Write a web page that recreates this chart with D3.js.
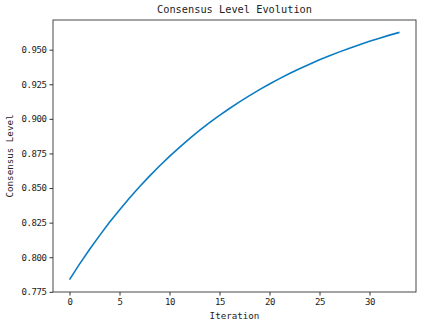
<!DOCTYPE html>
<html>
<head>
<meta charset="utf-8">
<script src="https://cdn.jsdelivr.net/npm/d3@7"></script>
<style>
  body { margin: 0; background: #fff; }
  text { font-family: "DejaVu Sans Mono", monospace; fill: #222; }
</style>
</head>
<body>
<div id="chart"></div>
<script>
// Consensus level per iteration
const iterations = d3.range(0, 34)
const consensus = [
  0.7838, 0.7950, 0.8056, 0.8156, 0.8252, 0.8342, 0.8428, 0.8509, 0.8586, 0.8659,
  0.8729, 0.8794, 0.8857, 0.8916, 0.8972, 0.9025, 0.9075, 0.9123, 0.9168, 0.9211,
  0.9252, 0.9291, 0.9328, 0.9362, 0.9395, 0.9427, 0.9456, 0.9484, 0.9511, 0.9536,
  0.9560, 0.9583, 0.9605, 0.9625
]
const xTicks = [0, 5, 10, 15, 20, 25, 30]
const yTicks = [0.775, 0.800, 0.825, 0.850, 0.875, 0.900, 0.925, 0.950]

const width = 424
const height = 323
const margin = { top: 20, right: 8, bottom: 31, left: 53 }

const svg = d3.select('#chart')
  .append('svg')
  .attr('width', width)
  .attr('height', height)

// matplotlib-like 5% margins
const xPad = (33 - 0) * 0.05
const yMin = d3.min(consensus), yMax = d3.max(consensus)
const yPad = (yMax - yMin) * 0.05

const x = d3.scaleLinear()
  .domain([0 - xPad, 33 + xPad])
  .range([margin.left, width - margin.right])

const y = d3.scaleLinear()
  .domain([yMin - yPad, yMax + yPad])
  .range([height - margin.bottom, margin.top])

// Axes
const xAxis = svg.append('g')
  .attr('transform', `translate(0, ${height - margin.bottom})`)
  .call(d3.axisBottom(x).tickValues(xTicks).tickSize(3.5).tickPadding(3).tickSizeOuter(0))

const yAxis = svg.append('g')
  .attr('transform', `translate(${margin.left}, 0)`)
  .call(d3.axisLeft(y).tickValues(yTicks).tickFormat(d3.format('.3f')).tickSize(3.5).tickPadding(3).tickSizeOuter(0))

svg.selectAll('.domain').remove()
svg.selectAll('.tick line').attr('stroke', '#333')
svg.selectAll('.tick text').style('font-size', '9px').attr('letter-spacing', '-0.4')

// Frame
svg.append('rect')
  .attr('x', margin.left)
  .attr('y', margin.top)
  .attr('width', width - margin.left - margin.right)
  .attr('height', height - margin.top - margin.bottom)
  .attr('fill', 'none')
  .attr('stroke', '#333')
  .attr('stroke-width', 0.9)

// Line
const line = d3.line()
  .x((d, i) => x(iterations[i]))
  .y(d => y(d))

svg.append('path')
  .datum(consensus)
  .attr('d', line)
  .attr('fill', 'none')
  .attr('stroke', '#0a7bc2')
  .attr('stroke-width', 1.6)

// Title and labels
svg.append('text')
  .text('Consensus Level Evolution')
  .attr('x', (margin.left + width - margin.right) / 2)
  .attr('y', 13)
  .attr('text-anchor', 'middle')
  .style('font-size', '10.3px')

svg.append('text')
  .text('Iteration')
  .attr('x', (margin.left + width - margin.right) / 2)
  .attr('y', 319)
  .attr('text-anchor', 'middle')
  .style('font-size', '9.2px')

svg.append('text')
  .text('Consensus Level')
  .attr('transform', `translate(13, ${(margin.top + height - margin.bottom) / 2}) rotate(-90)`)
  .attr('text-anchor', 'middle')
  .style('font-size', '9.2px')
</script>
</body>
</html>
